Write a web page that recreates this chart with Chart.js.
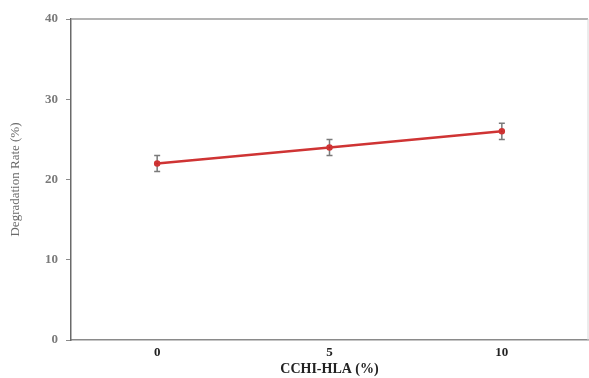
<!DOCTYPE html>
<html>
<head>
<meta charset="utf-8">
<script src="https://cdn.jsdelivr.net/npm/chart.js@4"></script>
<style>
  html, body { margin: 0; padding: 0; background: #fff; overflow: hidden; }
  #wrap { width: 589px; height: 378px; }
  canvas { display: block; }
</style>
</head>
<body>
<div id="wrap"><canvas id="myChart" width="589" height="378"></canvas></div>
<script>
const categories = ['0', '5', '10'];
const degradationRate = [22, 24, 26];
const errorValues = [1, 1, 1];
const yTickValues = [0, 10, 20, 30, 40];

// error bars drawn under the line
const errorBars = {
    id: 'errorBars',
    beforeDatasetsDraw(chart) {
        const ctx = chart.ctx;
        const y = chart.scales.y;
        const meta = chart.getDatasetMeta(0);
        ctx.save();
        ctx.strokeStyle = '#7a7a7a';
        ctx.lineWidth = 1.5;
        meta.data.forEach((pt, i) => {
            const top = y.getPixelForValue(degradationRate[i] + errorValues[i]);
            const bot = y.getPixelForValue(degradationRate[i] - errorValues[i]);
            ctx.beginPath();
            ctx.moveTo(pt.x, top); ctx.lineTo(pt.x, bot);
            ctx.moveTo(pt.x - 3, top); ctx.lineTo(pt.x + 3, top);
            ctx.moveTo(pt.x - 3, bot); ctx.lineTo(pt.x + 3, bot);
            ctx.stroke();
        });
        ctx.restore();
    }
};

// top and right frame lines
const frame = {
    id: 'frame',
    afterDraw(chart) {
        const a = chart.chartArea;
        const ctx = chart.ctx;
        ctx.save();
        ctx.strokeStyle = '#9a9a9a';
        ctx.lineWidth = 1.5;
        ctx.beginPath();
        ctx.moveTo(a.left, a.top); ctx.lineTo(a.right, a.top);
        ctx.stroke();
        ctx.lineWidth = 1;
        ctx.strokeStyle = '#d8d8d8';
        ctx.beginPath();
        ctx.moveTo(a.right, a.top); ctx.lineTo(a.right, a.bottom);
        ctx.stroke();
        ctx.restore();
    }
};

new Chart(document.getElementById('myChart'), {
    type: 'line',
    data: {
        labels: categories,
        datasets: [{
            data: degradationRate,
            borderColor: '#cf3434',
            backgroundColor: '#c42626',
            borderWidth: 2.5,
            pointRadius: 2,
            pointHoverRadius: 2,
            tension: 0
        }]
    },
    plugins: [errorBars, frame],
    options: {
        responsive: false,
        animation: false,
        layout: { autoPadding: false, padding: { top: 19, right: 1, left: 0, bottom: 0 } },
        plugins: { legend: { display: false }, tooltip: { enabled: false } },
        scales: {
            x: {
                offset: true,
                grid: { display: false, tickLength: 2 },
                border: { color: '#8a8a8a', width: 1.5 },
                ticks: {
                    color: '#222',
                    padding: 3,
                    font: { family: 'Liberation Serif', size: 13, weight: 'bold' }
                },
                title: {
                    display: true,
                    text: 'CCHI-HLA (%)',
                    color: '#222',
                    padding: { top: 0, bottom: 0 },
                    font: { family: 'Liberation Serif', size: 14, weight: 'bold' }
                },
                afterFit(scale) {
                    scale.height = 38;
                    scale.paddingLeft = 0;
                    scale.paddingRight = 0;
                }
            },
            y: {
                min: 0,
                max: 40,
                afterBuildTicks(scale) { scale.ticks = yTickValues.map(v => ({ value: v })); },
                grid: { drawOnChartArea: false, tickLength: 5, color: '#8a8a8a' },
                border: { color: '#6a6a6a', width: 1.5 },
                ticks: {
                    color: '#7a7a7a',
                    padding: 8,
                    font: { family: 'Liberation Serif', size: 13, weight: 'bold' }
                },
                title: {
                    display: true,
                    text: 'Degradation Rate (%)',
                    color: '#6a6a6a',
                    padding: { top: 8, bottom: 0 },
                    font: { family: 'Liberation Serif', size: 13 }
                },
                afterFit(scale) { scale.width = 71; }
            }
        }
    }
});
</script>
</body>
</html>
